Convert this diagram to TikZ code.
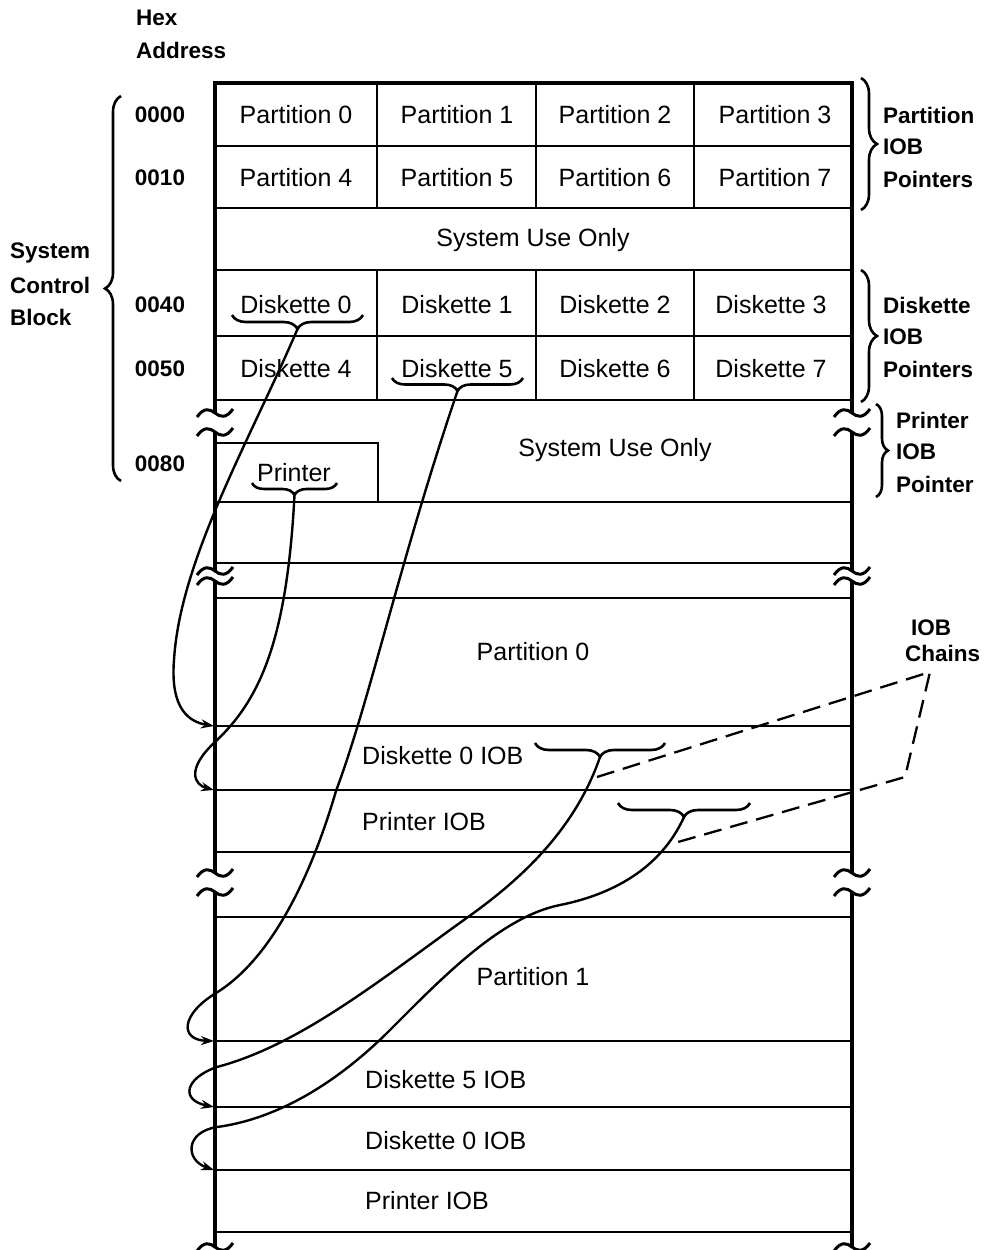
\documentclass[tikz,border=0pt]{standalone}
\usepackage{fontspec}
\setmainfont{Liberation Sans}
\usetikzlibrary{decorations.pathreplacing,arrows.meta}
\newcommand\brkmark[2]{\draw[line width=3pt,shift={(#1,#2)}] (-18,4) .. controls (-11,-6) and (-5,-4) .. (0,0) .. controls (5,4) and (11,6) .. (18,-4);}
\begin{document}
\begin{tikzpicture}[x=1pt,y=-1pt,
  txt/.style={font=\fontsize{25}{29}\selectfont, inner sep=0pt},
  lbl/.style={font=\fontsize{22.5}{27}\selectfont\bfseries, inner sep=0pt},
  frame/.style={line width=3.8pt},
  rule/.style={line width=2.8pt},
  brc/.style={line width=2.6pt, decorate, decoration={brace, amplitude=#1}},
  brc/.default=13,
  chain/.style={line width=2.4pt, -{Stealth[length=13pt,width=9pt]}},
  chaindash/.style={line width=2.3pt, dash pattern=on 18pt off 9pt}]
\useasboundingbox (0,0) rectangle (986,1250);
\fill[white] (0,0) rectangle (986,1250);

% frame
\draw[frame] (215,413) -- (215,83) -- (852,83) -- (852,413);
\draw[frame] (215,432) -- (215,571);
\draw[frame] (215,581) -- (215,873);
\draw[frame] (215,892) -- (215,1247);
\draw[frame] (852,432) -- (852,571);
\draw[frame] (852,581) -- (852,873);
\draw[frame] (852,892) -- (852,1247);
\foreach \yy in {413,432,571,581,873,892,1247} {\brkmark{215}{\yy}\brkmark{852}{\yy}}

% rules
\foreach \yy in {146,208,270,336,400,502,563,598,726,790,852,917,1041,1107,1170,1232}
  \draw[rule] (215,\yy) -- (852,\yy);
\foreach \xx in {377,536,694} {
  \draw[rule] (\xx,83) -- (\xx,208);
  \draw[rule] (\xx,270) -- (\xx,400);}
\draw[rule] (215,443) -- (378,443) -- (378,502);

% cells
\node[txt] (p0) at (296,115) {Partition 0};
\node[txt] (p1) at (457,115) {Partition 1};
\node[txt] (p2) at (615,115) {Partition 2};
\node[txt] (p3) at (775,115) {Partition 3};
\node[txt] (p4) at (296,178) {Partition 4};
\node[txt] (p5) at (457,178) {Partition 5};
\node[txt] (p6) at (615,178) {Partition 6};
\node[txt] (p7) at (775,178) {Partition 7};
\node[txt] (su1) at (533,240) {System Use Only};
\node[txt] (d0) at (296,305) {Diskette 0};
\node[txt] (d1) at (457,305) {Diskette 1};
\node[txt] (d2) at (615,305) {Diskette 2};
\node[txt] (d3) at (771,305) {Diskette 3};
\node[txt] (d4) at (296,369) {Diskette 4};
\node[txt] (d5) at (457,369) {Diskette 5};
\node[txt] (d6) at (615,369) {Diskette 6};
\node[txt] (d7) at (771,369) {Diskette 7};
\node[txt] (su2) at (615,450) {System Use Only};
\node[txt] (prt) at (294,473) {Printer};
\node[txt] (part0) at (533,652) {Partition 0};
\node[txt,anchor=west] (iobd0a) at (362,756) {Diskette 0 IOB};
\node[txt,anchor=west] (iobpa) at (362,822) {Printer IOB};
\node[txt] (part1) at (533,977) {Partition 1};
\node[txt,anchor=west] (iobd5b) at (365,1080) {Diskette 5 IOB};
\node[txt,anchor=west] (iobd0b) at (365,1141) {Diskette 0 IOB};
\node[txt,anchor=west] (iobpb) at (365,1201) {Printer IOB};

% left labels
\node[lbl,anchor=west] (hex) at (136,18) {Hex};
\node[lbl,anchor=west] (addr) at (136,50) {Address};
\node[lbl] (a0000) at (160,115) {0000};
\node[lbl] (a0010) at (160,178) {0010};
\node[lbl] (a0040) at (160,305) {0040};
\node[lbl] (a0050) at (160,369) {0050};
\node[lbl] (a0080) at (160,464) {0080};
\node[lbl,anchor=west] (scb1) at (10,253) {System};
\node[lbl,anchor=west] (scb2) at (10,285) {Control};
\node[lbl,anchor=west] (scb3) at (10,317) {Block};

% right labels
\node[lbl,anchor=west] (pp1) at (883,115) {Partition};
\node[lbl,anchor=west] (pp2) at (883,147) {IOB};
\node[lbl,anchor=west] (pp3) at (883,179) {Pointers};
\node[lbl,anchor=west] (dp1) at (883,305) {Diskette};
\node[lbl,anchor=west] (dp2) at (883,337) {IOB};
\node[lbl,anchor=west] (dp3) at (883,369) {Pointers};
\node[lbl,anchor=west] (rp1) at (896,420) {Printer};
\node[lbl,anchor=west] (rp2) at (896,452) {IOB};
\node[lbl,anchor=west] (rp3) at (896,484) {Pointer};
\node[lbl,anchor=west] (ch1) at (911,628) {IOB};
\node[lbl,anchor=west] (ch2) at (905,653) {Chains};

% braces
\draw[brc=16] (121,481) -- (121,96);
\draw[brc=16] (861,78) -- (861,210);
\draw[brc=16] (861,270) -- (861,402);
\draw[brc=12] (876,404) -- (876,497);
\draw[brc=14] (363,315) -- (232,315);
\draw[brc=13] (523,378) -- (392,378);
\draw[brc=12] (337,483) -- (252,483);
\draw[brc=14] (665,743) -- (535,743);
\draw[brc=14] (750,803) -- (618,803);

% brace tips and arrow targets
\coordinate (tD0) at (297.5,329);
\coordinate (tD5) at (457.5,391);
\coordinate (tPr) at (294.5,495);
\coordinate (tIobD) at (600,757);
\coordinate (tIobP) at (684,817);
\coordinate (aD0) at (214,726);
\coordinate (aPr) at (214,790);
\coordinate (aD5) at (214,1041);
\coordinate (aD0b) at (214,1107);
\coordinate (aPrb) at (214,1170);

% chains
\draw[chain] (tD0) .. controls (250,440) and (180,560) .. (174,660) .. controls (170,710) and (190,722) .. (aD0);
\draw[chain] (tPr) .. controls (287,640) and (260,700) .. (215,742) .. controls (185,770) and (195,785) .. (aPr);
\draw[chain] (tD5) .. controls (400,560) and (370,700) .. (336,791) .. controls (310,880) and (270,960) .. (216,993) .. controls (180,1015) and (180,1040) .. (aD5);
\draw[chain] (tIobD) .. controls (575,830) and (520,880) .. (468,917) .. controls (380,980) and (300,1045) .. (217,1067) .. controls (185,1078) and (180,1100) .. (aD0b);
\draw[chain] (tIobP) .. controls (660,870) and (610,895) .. (560,905) .. controls (500,917) and (440,980) .. (390,1030) .. controls (330,1090) and (270,1120) .. (217,1127) .. controls (185,1132) and (185,1160) .. (aPrb);

% IOB chains callout
\coordinate (cA) at (597,777);
\coordinate (cApex) at (930,672);
\coordinate (cMid) at (905,777);
\coordinate (cB) at (678,842);
\draw[chaindash] (cA) -- (cApex) -- (cMid) -- (cB);
\end{tikzpicture}
\end{document}
